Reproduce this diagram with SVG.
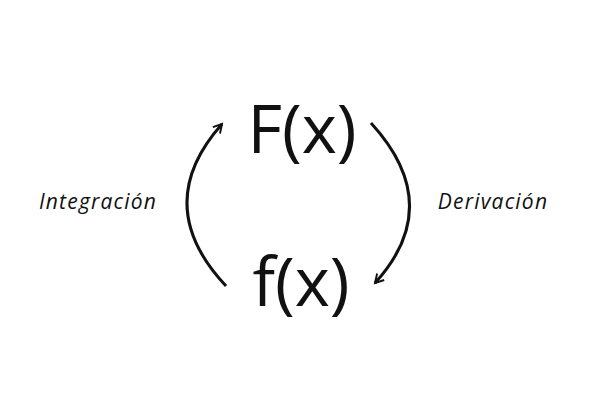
<svg xmlns="http://www.w3.org/2000/svg" width="600" height="400" viewBox="0 0 600 400">
<style>
.big{font-family:"Open Sans","Liberation Sans",sans-serif;font-size:67px;fill:#111;text-anchor:middle}
.lbl{font-family:"Open Sans","Liberation Sans",sans-serif;font-style:italic;font-size:21px;letter-spacing:1.2px;fill:#111;text-anchor:middle}
.c{fill:none;stroke:#111;stroke-width:3}
</style>
<defs><marker id="a" viewBox="0 0 10 10" refX="8" refY="5" markerWidth="4" markerHeight="4" orient="auto" markerUnits="strokeWidth"><path d="M1,1 L8,5 L1,9" fill="none" stroke="#111" stroke-width="1.6"/></marker></defs>
<rect width="600" height="400" fill="#fff"/>
<g id="connectors">
<path class="c" d="M226,286 Q150,205 222,124" marker-end="url(#a)"/>
<path class="c" d="M371,123 Q446,205 375,283" marker-end="url(#a)"/>
</g>
<g id="Fx"><text class="big" x="302" y="153">F(x)</text></g>
<g id="fx"><text class="big" x="301" y="306">f(x)</text></g>
<g id="integ"><text class="lbl" x="98" y="209">Integración</text></g>
<g id="deriv"><text class="lbl" x="493" y="209">Derivación</text></g>
</svg>
